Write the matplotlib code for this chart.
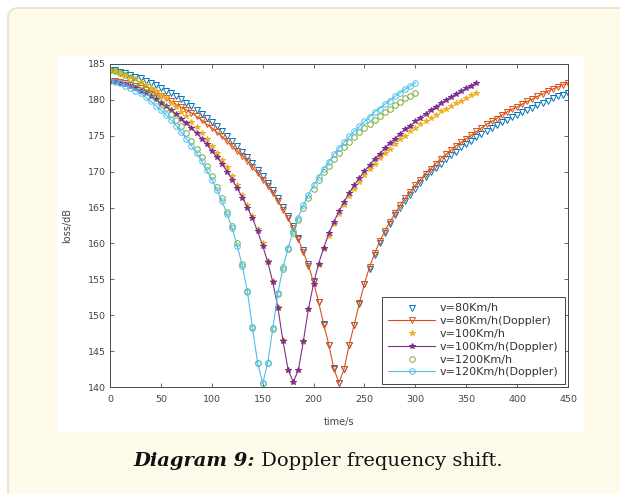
import matplotlib
matplotlib.use("Agg")
import matplotlib.pyplot as plt
import matplotlib.patches as mpatches
import numpy as np

# time grids (s), one sample every 5 s
t80 = np.arange(0, 455, 5)
t100 = np.arange(0, 365, 5)
t120 = np.arange(0, 305, 5)

# path loss (dB)
loss80 = [184.2, 184.1, 183.9, 183.7, 183.5, 183.2, 183.0, 182.7, 182.4, 182.1,
          181.7, 181.3, 180.9, 180.5, 180.1, 179.6, 179.1, 178.6, 178.1, 177.5,
          176.9, 176.3, 175.7, 175.0, 174.3, 173.6, 172.8, 172.1, 171.2, 170.3,
          169.4, 168.4, 167.4, 166.3, 165.1, 163.8, 162.4, 160.8, 159.1, 157.1,
          154.7, 151.9, 148.8, 145.9, 142.6, 140.6,
          142.5, 145.8, 148.6, 151.6, 154.3, 156.5, 158.4, 160.0, 161.4, 162.7,
          163.9, 164.9, 165.9, 166.8, 167.6, 168.4, 169.2, 169.9, 170.5, 171.1,
          171.7, 172.3, 172.8, 173.4, 173.9, 174.3, 174.8, 175.2, 175.7, 176.1,
          176.5, 176.9, 177.2, 177.6, 177.9, 178.3, 178.6, 178.9, 179.3, 179.6,
          179.9, 180.2, 180.5, 180.7, 181.0]
loss80_dop = [182.7, 182.6, 182.5, 182.3, 182.1, 181.9, 181.7, 181.4, 181.2, 180.9,
              180.5, 180.2, 179.8, 179.4, 179.0, 178.6, 178.2, 177.7, 177.2, 176.6,
              176.1, 175.5, 174.9, 174.3, 173.6, 172.9, 172.2, 171.5, 170.6, 169.8,
              168.9, 168.0, 167.0, 165.9, 164.7, 163.5, 162.1, 160.6, 158.8, 156.9,
              154.6, 151.8, 148.7, 145.9, 142.5, 140.6,
              142.5, 145.9, 148.7, 151.7, 154.4, 156.7, 158.6, 160.3, 161.7, 163.0,
              164.2, 165.3, 166.3, 167.2, 168.1, 168.9, 169.7, 170.4, 171.1, 171.8,
              172.4, 173.0, 173.6, 174.1, 174.6, 175.1, 175.6, 176.1, 176.6, 177.0,
              177.4, 177.9, 178.3, 178.7, 179.0, 179.4, 179.8, 180.1, 180.5, 180.8,
              181.2, 181.5, 181.8, 182.1, 182.4]
loss100 = [184.2, 184.0, 183.8, 183.5, 183.2, 182.9, 182.5, 182.1, 181.7, 181.2,
           180.7, 180.2, 179.6, 179.0, 178.3, 177.7, 176.9, 176.2, 175.4, 174.5,
           173.6, 172.6, 171.6, 170.6, 169.4, 168.2, 166.8, 165.4, 163.8, 162.0,
           160.0, 157.6, 154.7, 151.1, 146.5, 142.4, 140.7,
           142.3, 146.3, 150.8, 154.3, 157.0, 159.2, 161.1, 162.7, 164.1, 165.4,
           166.6, 167.6, 168.6, 169.5, 170.4, 171.1, 171.9, 172.6, 173.2, 173.9,
           174.5, 175.0, 175.6, 176.1, 176.6, 177.0, 177.5, 177.9, 178.4, 178.8,
           179.2, 179.6, 179.9, 180.3, 180.7, 181.0]
loss100_dop = [182.7, 182.6, 182.4, 182.2, 181.9, 181.6, 181.3, 180.9, 180.5, 180.1,
               179.6, 179.1, 178.6, 178.0, 177.4, 176.8, 176.1, 175.4, 174.6, 173.8,
               172.9, 172.0, 171.1, 170.0, 168.9, 167.7, 166.4, 165.0, 163.5, 161.7,
               159.7, 157.4, 154.6, 151.0, 146.4, 142.4, 140.7,
               142.3, 146.4, 150.9, 154.4, 157.2, 159.4, 161.4, 163.0, 164.5, 165.8,
               167.0, 168.1, 169.1, 170.1, 170.9, 171.8, 172.5, 173.3, 174.0, 174.6,
               175.3, 175.9, 176.4, 177.0, 177.5, 178.1, 178.6, 179.0, 179.5, 180.0,
               180.4, 180.8, 181.2, 181.6, 182.0, 182.4]
loss120 = [184.2, 184.0, 183.7, 183.4, 183.0, 182.5, 182.1, 181.5, 180.9, 180.3,
           179.6, 178.9, 178.1, 177.2, 176.3, 175.4, 174.3, 173.2, 172.1, 170.8,
           169.4, 167.9, 166.3, 164.4, 162.4, 160.0, 157.1, 153.4, 148.3, 143.4,
           140.5,
           143.3, 148.1, 153.0, 156.5, 159.2, 161.4, 163.3, 164.9, 166.4, 167.6,
           168.8, 169.9, 170.8, 171.7, 172.6, 173.4, 174.1, 174.8, 175.5, 176.1,
           176.7, 177.2, 177.8, 178.3, 178.8, 179.3, 179.7, 180.2, 180.6, 181.0]
loss120_dop = [182.7, 182.5, 182.3, 182.0, 181.7, 181.3, 180.9, 180.4, 179.8, 179.2,
               178.6, 177.9, 177.2, 176.4, 175.5, 174.6, 173.6, 172.6, 171.5, 170.2,
               168.9, 167.5, 165.9, 164.1, 162.1, 159.7, 156.9, 153.3, 148.2, 143.4,
               140.5,
               143.4, 148.2, 153.1, 156.7, 159.4, 161.7, 163.6, 165.3, 166.8, 168.1,
               169.3, 170.4, 171.4, 172.4, 173.3, 174.1, 174.9, 175.6, 176.3, 177.0,
               177.6, 178.3, 178.8, 179.4, 179.9, 180.5, 181.0, 181.5, 181.9, 182.4]

labels = ["v=80Km/h", "v=80Km/h(Doppler)", "v=100Km/h", "v=100Km/h(Doppler)",
          "v=1200Km/h", "v=120Km/h(Doppler)"]
colors = ["#0072BD", "#D95319", "#EDB120", "#7E2F8E", "#77AC30", "#4DBEEE"]

W, H = 620, 494
fig = plt.figure(figsize=(W / 100, H / 100), dpi=100)
fig.patch.set_facecolor("white")

def fx(px):
    return px / W

def fy(py):
    return 1 - py / H

# cream card behind the picture
card = mpatches.FancyBboxPatch((fx(8), fy(530)), fx(660), fy(8) - fy(530),
                               boxstyle="round,pad=0,rounding_size=0.018",
                               transform=fig.transFigure, facecolor="#fefaea",
                               edgecolor="#e9e5d6", lw=1.5, zorder=0)
fig.patches.append(card)
# white picture area
fig.patches.append(mpatches.Rectangle((fx(57), fy(432)), fx(584) - fx(57), fy(56) - fy(432),
                                      transform=fig.transFigure, facecolor="white",
                                      edgecolor="none", zorder=1))

ax = fig.add_axes([fx(110), fy(387), fx(568) - fx(110), fy(64) - fy(387)])
ax.set_zorder(2)

ms = 4
ax.plot(t80, loss80, "v", color=colors[0], mfc="none", ms=ms, mew=0.7, label=labels[0])
ax.plot(t80, loss80_dop, "-v", color=colors[1], mfc="none", ms=ms, mew=0.7, lw=0.8, label=labels[1])
ax.plot(t100, loss100, "*", color=colors[2], ms=ms, mew=0.7, label=labels[2])
ax.plot(t100, loss100_dop, "-*", color=colors[3], ms=ms, mew=0.7, lw=0.8, label=labels[3])
ax.plot(t120, loss120, "o", color=colors[4], mfc="none", ms=ms, mew=0.7, label=labels[4])
ax.plot(t120, loss120_dop, "-o", color=colors[5], mfc="none", ms=ms, mew=0.7, lw=0.8, label=labels[5])

ax.set_xlim(0, 450)
ax.set_ylim(140, 185)
ax.set_xticks(np.arange(0, 451, 50))
ax.set_yticks(np.arange(140, 186, 5))
ax.tick_params(direction="in", length=3, width=0.6, top=True, right=True,
               labelsize=6.8, colors="#4a4a4a", labelcolor="#444444", pad=3)
ax.tick_params(axis="x", pad=6)
for sp in ax.spines.values():
    sp.set_color("#4a4a4a")
    sp.set_linewidth(0.7)
ax.set_xlabel("time/s", fontsize=7, color="#444444", labelpad=9)
ax.set_ylabel("loss/dB", fontsize=7, color="#444444", labelpad=11)

leg = ax.legend(loc="lower right", fontsize=8, handlelength=4.2, labelspacing=0.25,
                borderaxespad=0.27, fancybox=False, framealpha=1, edgecolor="#444444",
                borderpad=0.6, handletextpad=0.4)
leg.get_frame().set_linewidth(0.7)
for txt in leg.get_texts():
    txt.set_color("#333333")

# caption: bold italic label followed by regular text
renderer = fig.canvas.get_renderer()
cap_y = fy(461)
part1 = fig.text(0, cap_y, "Diagram 9:", fontsize=14, family="DejaVu Serif",
                 weight="bold", style="italic", va="center", color="#111111")
part2 = fig.text(0, cap_y, " Doppler frequency shift.", fontsize=14, family="DejaVu Serif",
                 va="center", color="#111111")
w1 = part1.get_window_extent(renderer).width / W
w2 = part2.get_window_extent(renderer).width / W
x0 = fx(318) - (w1 + w2) / 2
part1.set_x(x0)
part2.set_x(x0 + w1)

fig.savefig("out.png", dpi=100, facecolor=fig.get_facecolor())
